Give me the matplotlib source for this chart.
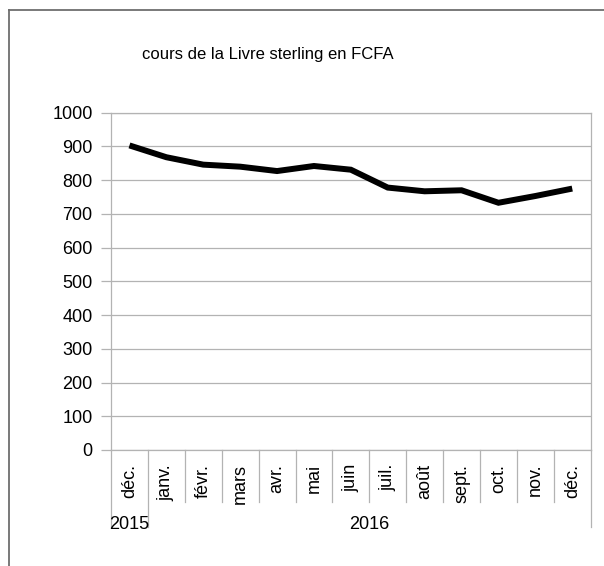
import matplotlib
matplotlib.use("Agg")
import matplotlib.pyplot as plt
from matplotlib.lines import Line2D
from matplotlib.transforms import blended_transform_factory
import numpy as np

plt.rcParams['font.family'] = ['Liberation Sans', 'DejaVu Sans']

title = "cours de la Livre sterling en FCFA"
months = ["déc.", "janv.", "févr.", "mars", "avr.", "mai", "juin",
          "juil.", "août", "sept.", "oct.", "nov.", "déc."]
years = ["2015", "2016"]
year_counts = [1, 12]
values = [903, 868, 846, 840, 827, 842, 831, 778, 767, 770, 733, 753, 775]
yticks = [0, 100, 200, 300, 400, 500, 600, 700, 800, 900, 1000]

W, H = 604, 566
fig = plt.figure(figsize=(W / 100, H / 100), dpi=100)

# plot area in pixels
x0, x1 = 111, 590.7
ytop, ybot = 112.7, 450
ax = fig.add_axes([x0 / W, 1 - ybot / H, (x1 - x0) / W, (ybot - ytop) / H])

grid_c = "#b3b3b3"
n = len(months)
xs = np.arange(n) + 0.5
ax.plot(xs, values, color="black", lw=4.3, solid_joinstyle="miter", solid_capstyle="butt", zorder=3)

ax.set_xlim(0, n)
ax.set_ylim(0, 1000)
ax.set_yticks(yticks)
ax.set_yticklabels([str(v) for v in yticks], fontsize=13)
ax.tick_params(axis="y", length=7.2, width=0.9, color=grid_c, pad=6)
ax.set_xticks([])
ax.yaxis.grid(True, color=grid_c, lw=0.9)
ax.set_axisbelow(True)
for s in ax.spines.values():
    s.set_color(grid_c)
    s.set_linewidth(0.9)

# category separators below axis
trans = blended_transform_factory(ax.transData, ax.transAxes)
px = 1 / (ybot - ytop)  # axes fraction per pixel
year_bounds = np.concatenate([[0], np.cumsum(year_counts)])
for i in range(n + 1):
    depth = 77 if i in year_bounds else 52
    ax.add_line(Line2D([i, i], [0, -depth * px], transform=trans, color=grid_c,
                       lw=0.9, clip_on=False))

for i, m in enumerate(months):
    ax.text(i + 0.5, -14 * px, m, transform=trans, rotation=90, ha="center", va="top",
            fontsize=13)

for k, y in enumerate(years):
    c = (year_bounds[k] + year_bounds[k + 1]) / 2
    ax.text(c, -66 * px, y, transform=trans, ha="center", va="top", fontsize=13)

fig.text(268 / W, 1 - 55 / H, title, ha="center", va="center", fontsize=12)

# outer frame (cropped on right and bottom)
fc = "#6e6e6e"
fig.add_artist(Line2D([8.5 / W, 8.5 / W], [0, 1 - 9.5 / H], color=fc, lw=1.3))
fig.add_artist(Line2D([8.5 / W, 1], [1 - 9.5 / H, 1 - 9.5 / H], color=fc, lw=1.3))

fig.savefig("out.png", dpi=100)
